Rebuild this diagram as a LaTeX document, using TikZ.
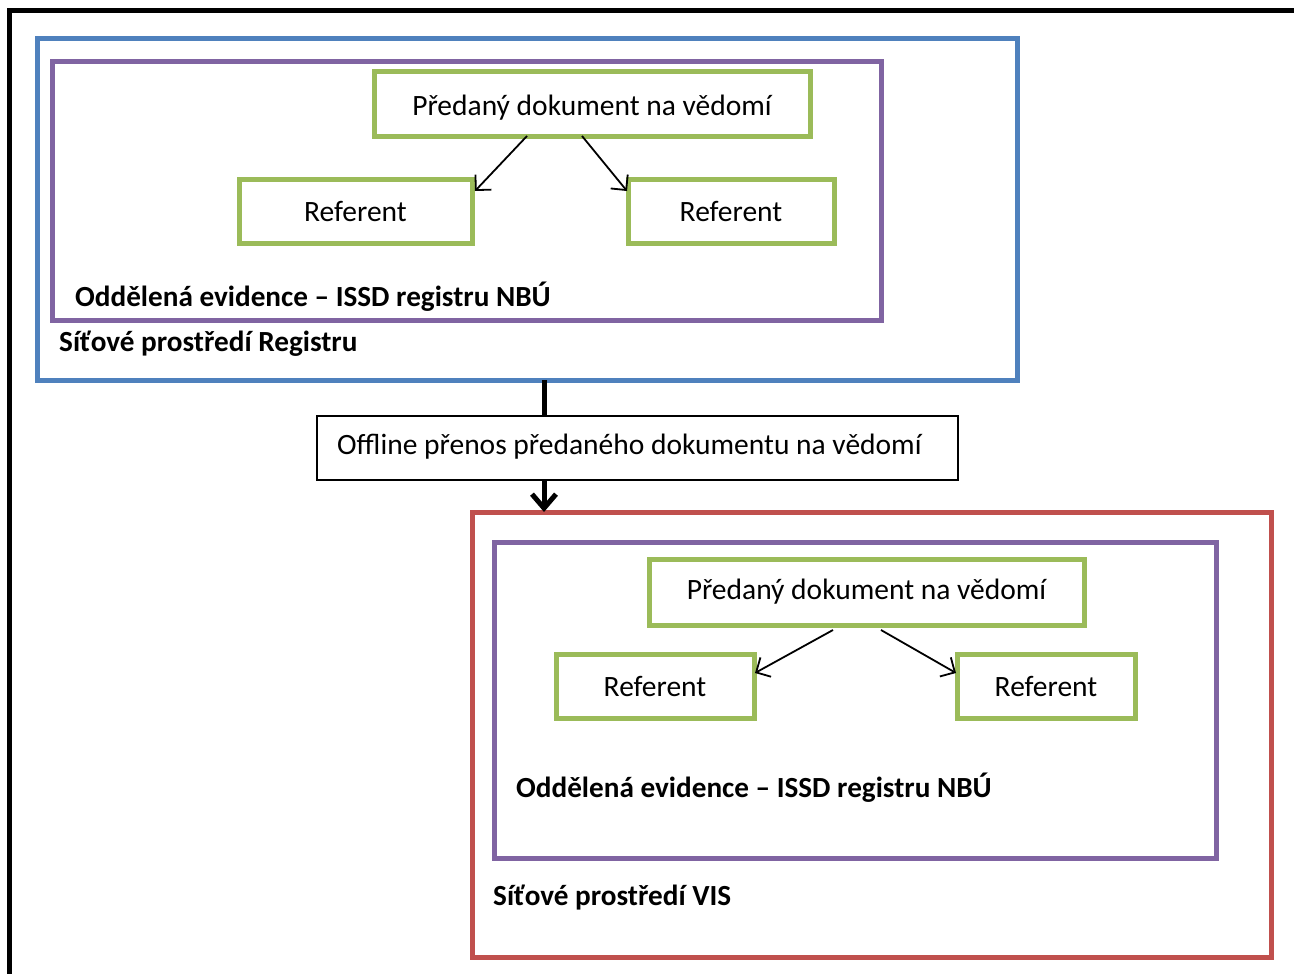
\documentclass[tikz,border=0pt]{standalone}
\usepackage{fontspec}
\setmainfont{Carlito}
\usetikzlibrary{arrows.meta}
\definecolor{ofcblue}{HTML}{4F81BD}
\definecolor{ofcpurple}{HTML}{8064A2}
\definecolor{ofcgreen}{HTML}{9BBB59}
\definecolor{ofcred}{HTML}{C0504D}
\tikzset{
  frame/.style={draw, line width=5pt, rectangle, inner sep=0pt, outer sep=0pt},
  zone/.style={frame, color=#1},
  itembox/.style={draw=ofcgreen, line width=5pt, rectangle, inner sep=0pt, outer sep=0pt,
    minimum height=64pt, font=\fontsize{29.5}{35}\selectfont, text=black},
  docbox/.style={itembox, text height=24.6pt, text depth=1pt},
  caption/.style={anchor=west, inner sep=0pt, font=\fontsize{29.2}{35}\selectfont\bfseries},
  flowbox/.style={draw, line width=1.3pt, fill=white, rectangle, inner sep=0pt, outer sep=0pt,
    minimum width=641pt, minimum height=64pt},
  link/.style={line width=1.8pt, -{Straight Barb[length=11pt, width=22pt, line width=1.8pt]}},
  transfer/.style={line width=5pt, -{Straight Barb[length=14pt, width=24pt, line width=5pt]}}
}
\begin{document}
\begin{tikzpicture}[x=1pt, y=-1pt]
\useasboundingbox (0,0) rectangle (1294,974);
\fill[white] (0,0) rectangle (1294,974);
\begin{scope}
\clip (0,0) rectangle (1294,974);
% outer page frame, running off the right and bottom edges
\node[frame, minimum width=1320pt, minimum height=1000pt, anchor=north west] (page) at (9.5,10.5) {};
\end{scope}

% upper network: registry environment
\node[zone=ofcblue, minimum width=980pt, minimum height=341pt] (regnet) at (527,209.5) {};
\node[zone=ofcpurple, minimum width=829pt, minimum height=259pt] (regrec) at (466.5,191) {};
\node[docbox, minimum width=436pt] (regdoc) at (592,104) {Předaný dokument na vědomí};
\node[itembox, minimum width=233pt] (regrefa) at (355.5,211) {Referent};
\node[itembox, minimum width=206pt] (regrefb) at (731,211) {Referent};
\node[caption] (regreclabel) at (75,297) {Oddělená evidence – ISSD registru NBÚ};
\node[caption] (regnetlabel) at (59,344) {Síťové prostředí Registru};

\draw[link] ([xshift=-65pt]regdoc.south) -- ([xshift=3pt, yshift=-12pt]regrefa.north east);
\draw[link] ([xshift=-10pt]regdoc.south) -- ([xshift=-1pt, yshift=-12pt]regrefb.north west);

% lower network: VIS environment
\node[zone=ofcred, minimum width=799pt, minimum height=445pt] (visnet) at (871.5,734.5) {};
\node[zone=ofcpurple, minimum width=722pt, minimum height=316pt] (visrec) at (855,700) {};
\node[itembox, minimum width=435pt, minimum height=66pt] (visdoc) at (866.5,592) {Předaný dokument na vědomí};
\node[itembox, minimum width=198pt] (visrefa) at (655,686) {Referent};
\node[itembox, minimum width=178pt] (visrefb) at (1046,686) {Referent};
\node[caption] (visreclabel) at (516,788) {Oddělená evidence – ISSD registru NBÚ};
\node[caption] (visnetlabel) at (493,897.5) {Síťové prostředí VIS};

\draw[link] ([xshift=-33.5pt, yshift=-5pt]visdoc.south) -- ([xshift=1pt, yshift=-19pt]visrefa.north east);
\draw[link] ([xshift=14.5pt, yshift=-5pt]visdoc.south) -- ([xshift=-1pt, yshift=-19pt]visrefb.north west);

% offline transfer between the two networks
\coordinate (out) at (544,380);
\coordinate (in) at (544,512);
\draw[transfer] (out) -- (in);
\node[flowbox] (transfer) at (637.5,448) {};
\node[anchor=west, inner sep=0pt, font=\fontsize{29.5}{35}\selectfont] (transferlabel) at (337,446.5) {Offline přenos předaného dokumentu na vědomí};
\end{tikzpicture}
\end{document}
